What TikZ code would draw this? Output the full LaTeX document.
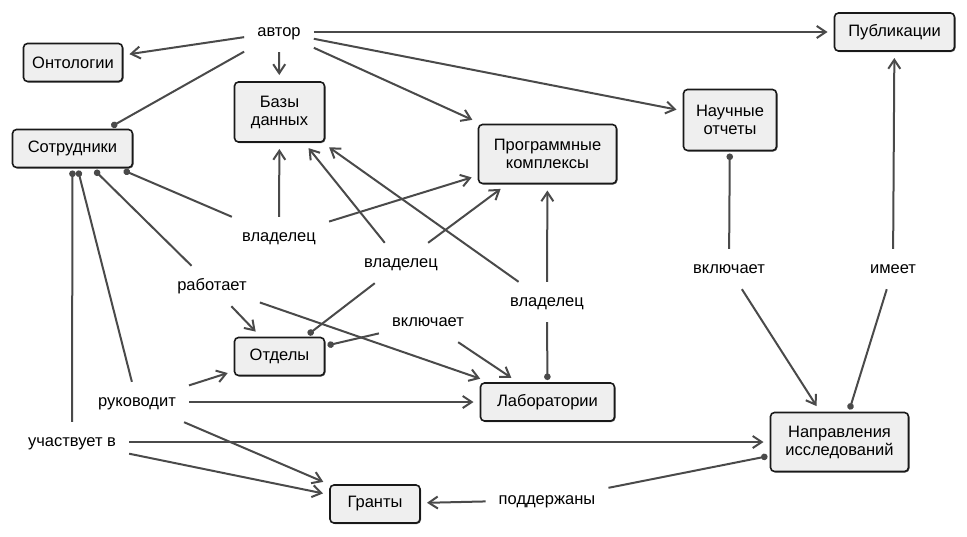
\documentclass[tikz,border=0pt]{standalone}
\usepackage{fontspec}
\setmainfont{Liberation Sans}
\usetikzlibrary{arrows.meta,shadows}
\definecolor{boxfill}{HTML}{EFEFEF}
\definecolor{linkgray}{HTML}{4A4A4A}
\begin{document}
\begin{tikzpicture}[x=1pt, y=-1pt, ->, >={Straight Barb[length=9pt,width=12pt]},
    every node/.style={font=\fontsize{16.5}{18}\selectfont},
    every edge/.style={draw=linkgray, line width=2pt, shorten >=4pt},
    concept/.style={draw=black!90, line width=1.6pt, fill=boxfill, rounded corners=4pt,
      align=center, minimum height=38pt, outer sep=3pt,
      drop shadow={shadow xshift=1pt, shadow yshift=-1pt, opacity=.6, fill=black}},
    phrase/.style={inner xsep=13pt, minimum height=40pt, text height=12pt, text depth=4pt},
    dot/.style={{Circle[length=6.5pt]}-, shorten >=0pt}]
  \useasboundingbox (0,0) rectangle (967,536);
  % concepts
  \node[concept, minimum width=99pt] (ont) at (73,62.5) {Онтологии};
  \node[concept, minimum width=120pt] (staff) at (72.5,148.5) {Сотрудники};
  \node[concept, minimum width=90pt, minimum height=60pt] (db) at (279.5,112) {Базы\\данных};
  \node[concept, minimum width=138pt, minimum height=59pt] (soft) at (547.5,154) {Программные\\комплексы};
  \node[concept, minimum width=93pt, minimum height=61pt] (rep) at (730,120) {Научные\\отчеты};
  \node[concept, minimum width=120pt] (pub) at (894.5,32) {Публикации};
  \node[concept, minimum width=90pt] (dep) at (279.5,356.5) {Отделы};
  \node[concept, minimum width=134pt] (lab) at (547.5,402) {Лаборатории};
  \node[concept, minimum width=138pt, minimum height=59pt] (dir) at (839.5,442) {Направления\\исследований};
  \node[concept, minimum width=90pt] (grant) at (375,504) {Гранты};
  % linking phrases
  \node[phrase] (author) at (279,32) {автор};
  \node[phrase] (own1) at (279,237) {владелец};
  \node[phrase] (own2) at (401,263) {владелец};
  \node[phrase] (own3) at (547,302) {владелец};
  \node[phrase] (works) at (212,286) {работает};
  \node[phrase] (incl1) at (428,322) {включает};
  \node[phrase] (incl2) at (729,269) {включает};
  \node[phrase] (has) at (893,269) {имеет};
  \node[phrase] (leads) at (137,402) {руководит};
  \node[phrase] (part) at (72,442) {участвует в};
  \node[phrase] (supp) at (547,500) {поддержаны};
  \path
  (staff) edge[dot] (author)
  (staff) edge[dot] (own1)
  (staff) edge[dot] (works)
  (staff) edge[dot] (leads)
  (staff) edge[dot] (part)
  (dep) edge[dot] (own2)
  (dep) edge[dot] (incl1)
  (lab) edge[dot] (own3)
  (rep) edge[dot] (incl2)
  (dir) edge[dot] (has)
  (dir) edge[dot] (supp)
  (author) edge (ont)
  (author) edge (db)
  (author) edge (pub)
  (author) edge (rep)
  (author) edge (soft)
  (own1) edge (db)
  (own1) edge (soft)
  (own2) edge (db)
  (own2) edge (soft)
  (own3) edge (db)
  (own3) edge (soft)
  (works) edge (dep)
  (works) edge (lab)
  (incl1) edge (lab)
  (leads) edge (dep)
  (leads) edge (lab)
  (leads) edge (grant)
  (part) edge (dir)
  (part) edge (grant)
  (supp) edge (grant)
  (incl2) edge (dir)
  (has) edge (pub);
\end{tikzpicture}
\end{document}
